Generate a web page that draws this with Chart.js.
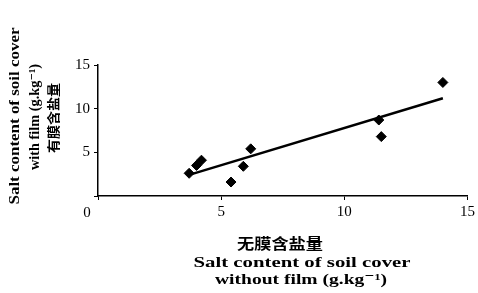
<!DOCTYPE html>
<html>
<head>
<meta charset="utf-8">
<script src="https://cdn.jsdelivr.net/npm/chart.js@4"></script>
<style>
    html, body { margin: 0; padding: 0; background: #fff; }
    #wrap { width: 478px; height: 293px; }
</style>
</head>
<body>
<div id="wrap"><canvas id="myChart"></canvas></div>
<script>
// values
var withoutFilm = [3.7, 4.0, 4.2, 5.4, 5.9, 6.2, 11.4, 11.5, 14.0];
var withFilm = [2.6, 3.5, 4.1, 1.6, 3.4, 5.4, 8.7, 6.8, 13.0];
var trendX = [3.8, 14.0];
var trendY = [2.5, 11.2];
var tickValues = [0, 5, 10, 15];

var xTitle = ["无膜含盐量", "Salt content of soil cover", "without film (g.kg⁻¹)"];
var yTitle = ["Salt content of soil cover", "with film (g.kg⁻¹)", "有膜含盐量"];

var serif = "'Liberation Serif', 'DejaVu Serif', serif";
var cjk = "'Noto Sans CJK SC', sans-serif";

var points = [], trend = [];
for (var i = 0; i < withoutFilm.length; i++) {
    points.push({x: withoutFilm[i], y: withFilm[i]});
}
for (var j = 0; j < trendX.length; j++) {
    trend.push({x: trendX[j], y: trendY[j]});
}

function isCjk(s) {
    return /[\u4e00-\u9fff]/.test(s);
}

// draws a line of text stretched to a given width (the scan uses a wide face)
function wideText(ctx, text, font, width) {
    ctx.font = font;
    var sx = width / ctx.measureText(text).width;
    ctx.save();
    ctx.scale(sx, 1);
    ctx.fillText(text, 0, 0);
    ctx.restore();
}

// axis titles and the shared "0" at the corner
var titlesPlugin = {
    id: 'titles',
    afterDraw: function (chart) {
        var ctx = chart.ctx;
        ctx.save();
        ctx.fillStyle = '#000';
        ctx.textAlign = 'center';
        ctx.textBaseline = 'middle';

        ctx.font = "15px " + serif;
        ctx.fillText("0", 87, 213);

        var xs = [
            {t: xTitle[0], x: 280, y: 243, w: 86, s: 15},
            {t: xTitle[1], x: 302, y: 263, w: 217, s: 15},
            {t: xTitle[2], x: 301, y: 280, w: 172, s: 15}
        ];
        xs.forEach(function (l) {
            ctx.save();
            ctx.translate(l.x, l.y);
            wideText(ctx, l.t, (isCjk(l.t) ? "bold " + l.s + "px " + cjk : "bold " + l.s + "px " + serif), l.w);
            ctx.restore();
        });

        var ys = [
            {t: yTitle[0], x: 15, c: 116, w: 177, s: 14},
            {t: yTitle[1], x: 35, c: 117, w: 106, s: 14},
            {t: yTitle[2], x: 53, c: 118, w: 70, s: 13}
        ];
        ys.forEach(function (l) {
            ctx.save();
            ctx.translate(l.x, l.c);
            ctx.rotate(-Math.PI / 2);
            wideText(ctx, l.t, (isCjk(l.t) ? "bold " + l.s + "px " + cjk : "bold " + l.s + "px " + serif), l.w);
            ctx.restore();
        });
        ctx.restore();
    }
};

var ctx = document.getElementById("myChart");
var myChart = new Chart(ctx, {
    type: 'scatter',
    data: {
        datasets: [{
            data: points,
            pointStyle: 'rectRot',
            pointRadius: 5,
            backgroundColor: '#000',
            borderColor: '#000',
            showLine: false
        }, {
            data: trend,
            showLine: true,
            pointRadius: 0,
            borderColor: '#000',
            borderWidth: 2.5
        }]
    },
    options: {
        responsive: true,
        maintainAspectRatio: false,
        animation: false,
        layout: {padding: {left: 0, right: 0, top: 65, bottom: 0}},
        plugins: {
            legend: {display: false},
            tooltip: {enabled: false}
        },
        scales: {
            x: {
                type: 'linear',
                min: 0,
                max: 15,
                afterFit: function (scale) { scale.height = 97; },
                afterBuildTicks: function (scale) {
                    scale.ticks = tickValues.map(function (v) { return {value: v}; });
                },
                border: {color: '#000', width: 1.5},
                grid: {drawOnChartArea: false, color: '#000', tickLength: 4, lineWidth: 1},
                ticks: {
                    color: '#000',
                    padding: 3,
                    font: {family: serif, size: 15},
                    callback: function (v) { return v === 0 ? '' : v; }
                }
            },
            y: {
                min: 0,
                max: 15,
                afterFit: function (scale) { scale.width = 98; },
                afterBuildTicks: function (scale) {
                    scale.ticks = tickValues.map(function (v) { return {value: v}; });
                },
                border: {color: '#000', width: 1.5},
                grid: {drawOnChartArea: false, color: '#000', tickLength: 4, lineWidth: 1},
                ticks: {
                    color: '#000',
                    padding: 4,
                    font: {family: serif, size: 15},
                    callback: function (v) { return v === 0 ? '' : v; }
                }
            }
        }
    },
    plugins: [titlesPlugin]
});
</script>
</body>
</html>
